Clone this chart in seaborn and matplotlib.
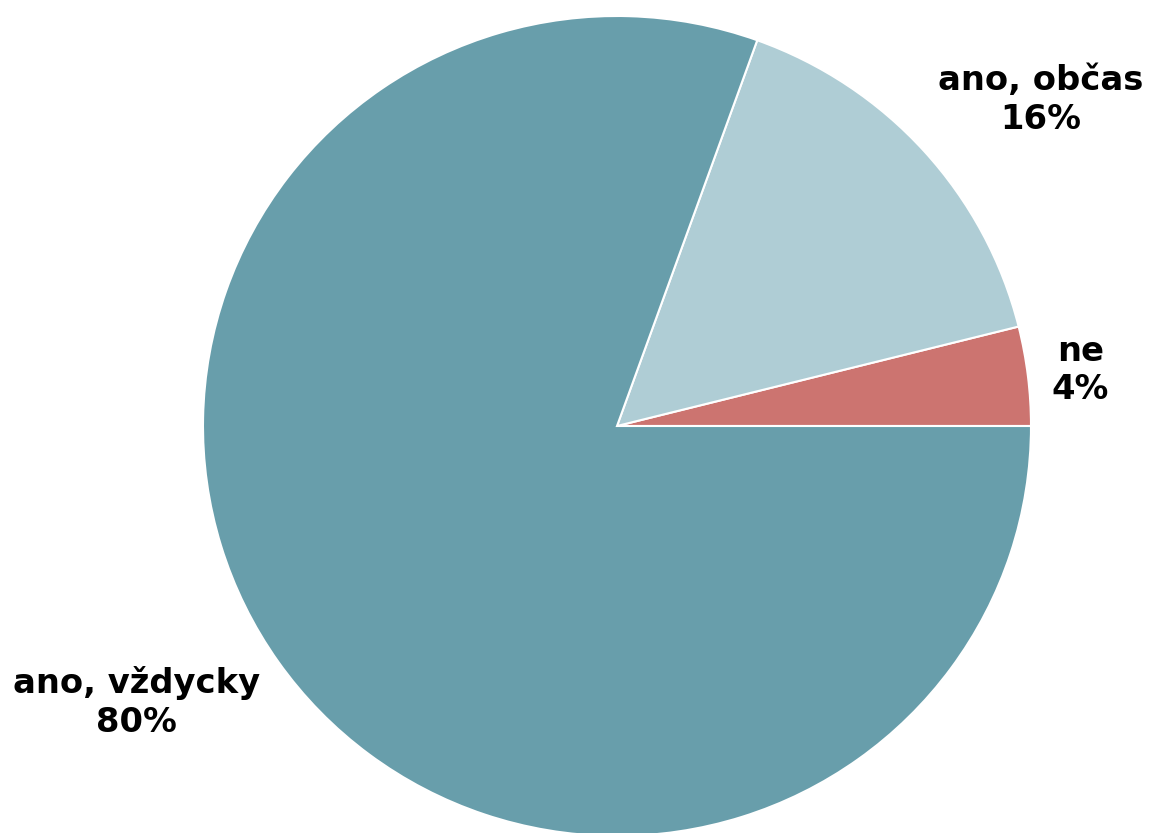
import numpy as np
import seaborn as sns
import matplotlib.pyplot as plt

# === data ===
categories = ['ne', 'ano, občas', 'ano, vždycky']
shares = [3.9, 15.6, 80.5]          # slice sizes
shown_pct = [4, 16, 80]              # percentages as printed on the chart
colors = ['#cc7470', '#afcdd5', '#689eab']

# label placement (angle in deg, distance in radii)
label_angles = [6.9, 37.8, 210.2]
label_dist = [1.128, 1.296, 1.342]

sns.set_theme(style="white")
plt.rcParams['font.family'] = ['DejaVu Sans']

fig = plt.figure(figsize=(11.49, 8.33), dpi=100)
ax = fig.add_axes([0, 0, 1, 1])

wedges, _ = ax.pie(
    shares, colors=colors, startangle=0, counterclock=True,
    radius=1.0, center=(0, 0), frame=False,
    wedgeprops=dict(edgecolor='white', linewidth=1.5),
)

for cat, val, ang, d in zip(categories, shown_pct, label_angles, label_dist):
    a = np.deg2rad(ang)
    ax.text(d * np.cos(a), d * np.sin(a), f'{cat}\n{val}%',
            ha='center', va='center', fontsize=24.3, fontweight='bold',
            color='black', linespacing=1.22)

# 414 px horizontally, 410 px vertically per radius, center at (617, 426)
ax.set_aspect('auto')
ax.set_xlim(-617 / 414, 532 / 414)
ax.set_ylim(-407 / 410, 426 / 410)
ax.axis('off')

plt.savefig('out.png', dpi=100)
